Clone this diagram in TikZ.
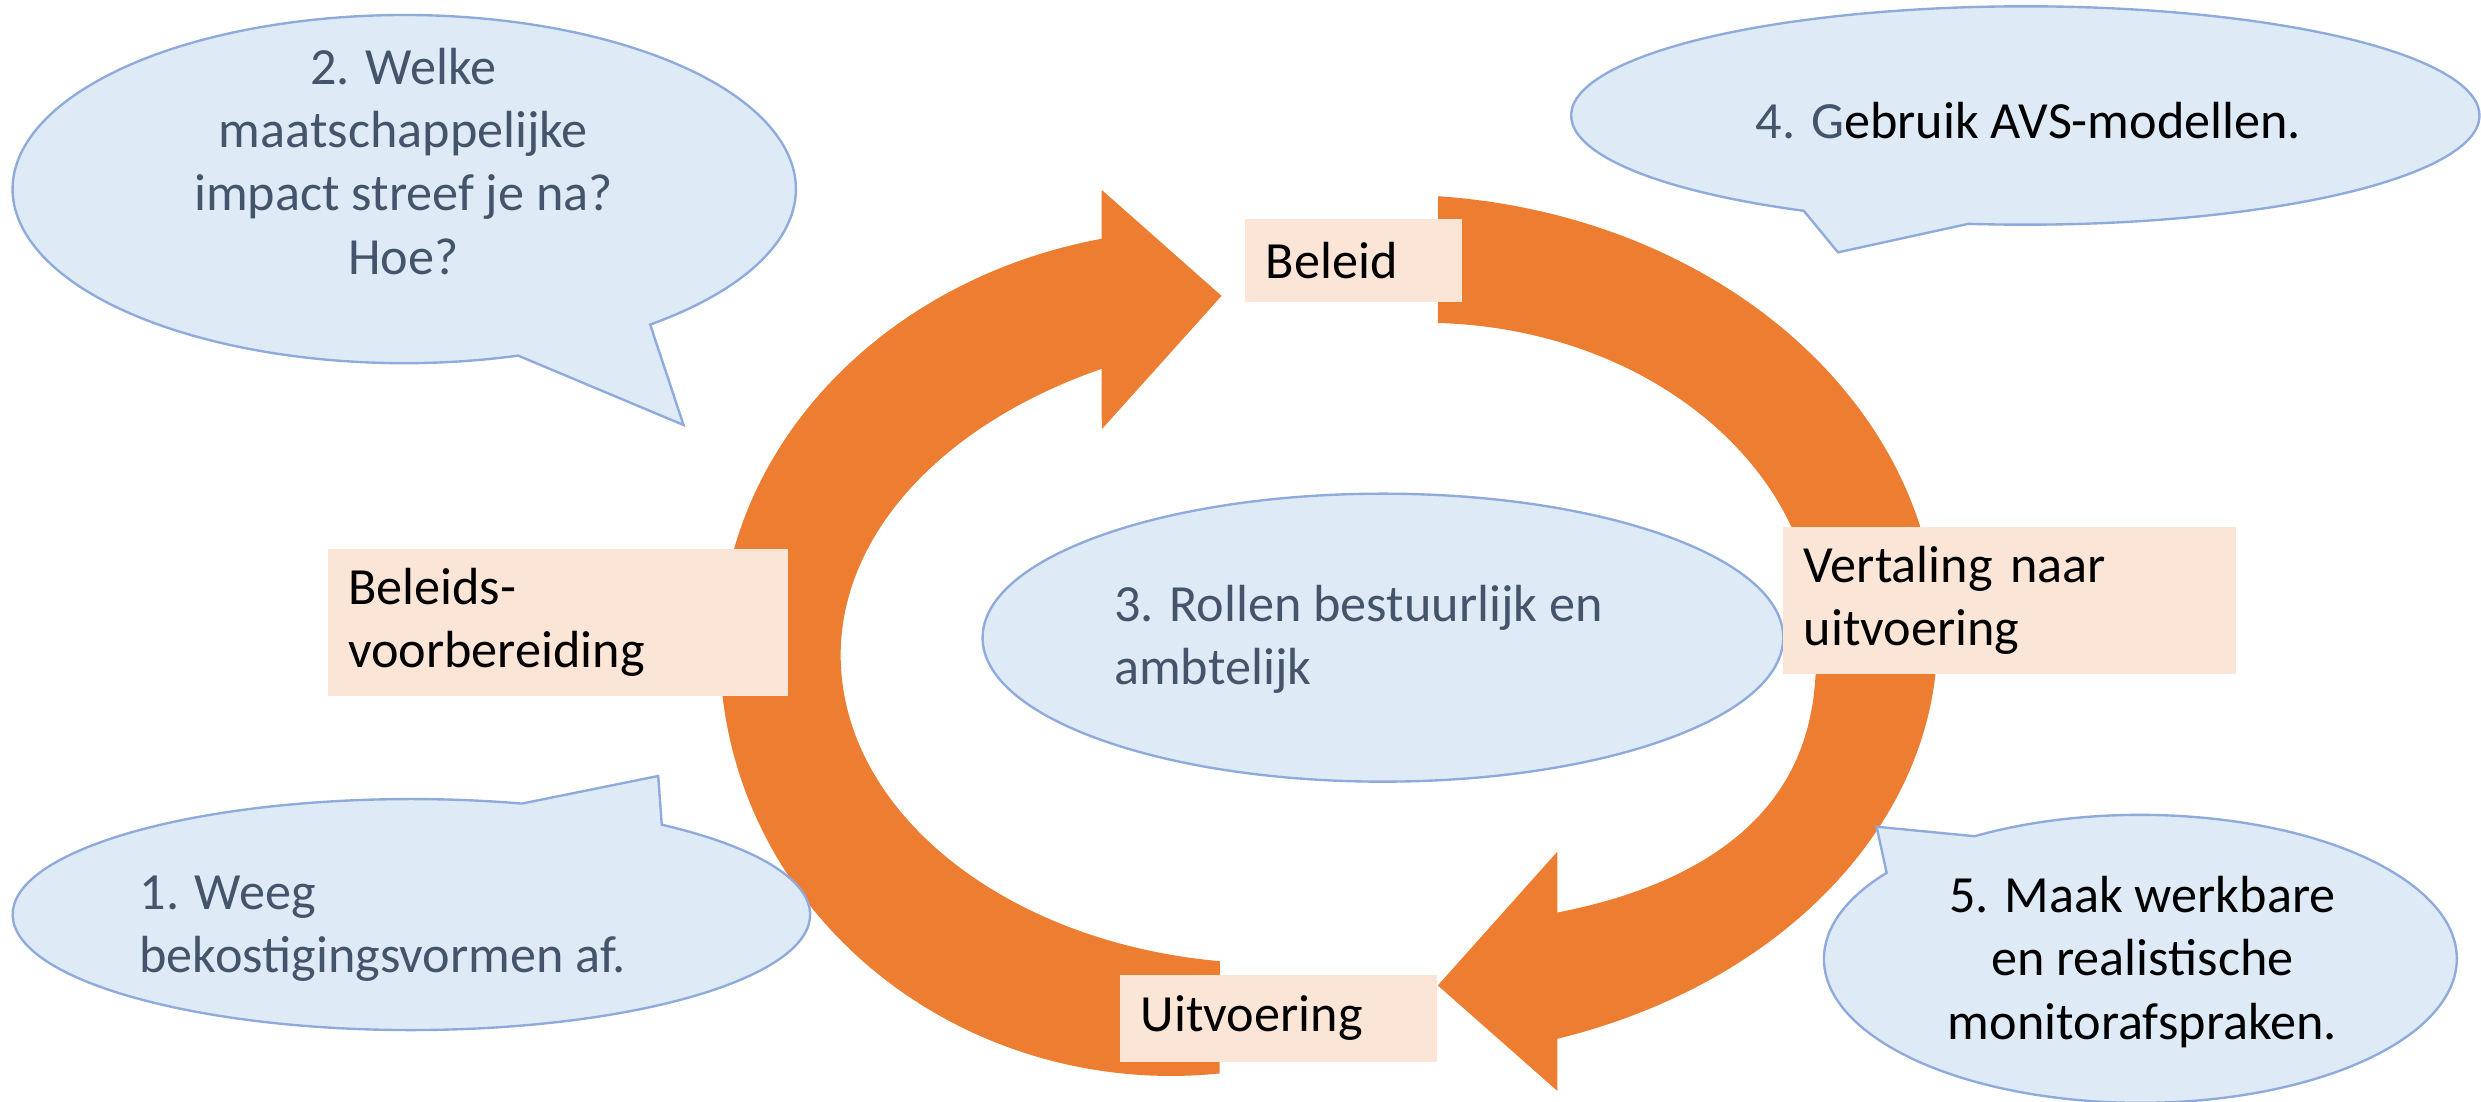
\documentclass[tikz,border=0pt]{standalone}
\usepackage{fontspec}
\setmainfont{Carlito}
\usetikzlibrary{calc}
\definecolor{ringc}{HTML}{ED7D31}
\definecolor{boxfill}{HTML}{FBE5D6}
\definecolor{bubfill}{HTML}{DEEBF7}
\definecolor{bubline}{HTML}{8FAADC}
\definecolor{slate}{HTML}{44546A}
\begin{document}
\begin{tikzpicture}[x=1pt,y=1pt,yscale=-1,
  bubble/.style={fill=bubfill,draw=bubline,line width=1.5pt,line join=miter},
  txt/.style={inner sep=0pt,font=\fontsize{33}{40}\selectfont},
  lbl/.style={fill=boxfill,inner xsep=13pt,inner ysep=0pt,align=left,font=\fontsize{33}{40}\selectfont}]
\useasboundingbox[fill=white] (0,0) rectangle (1568,696);
% left ring arrow (bottom tail -> arrowhead at Beleid)
\fill[ringc] ($(740,411)+(83.78:285 and 269)$)
  arc[start angle=83.78,end angle=180,x radius=285,y radius=269]
  arc[start angle=180,end angle=257.94,x radius=305,y radius=266]
  -- (696.3,120) -- (772,187) -- (696.3,271.3)
  -- ($(838,414)+(242.48:306.7 and 204)$)
  arc[start angle=242.48,end angle=180,x radius=306.7,y radius=204]
  arc[start angle=180,end angle=97.16,x radius=273.7,y radius=195] -- cycle;
% right ring arrow (top tail -> arrowhead at Uitvoering)
\fill[ringc] ($(880,403)+(274.8:344.5 and 280)$)
  arc[start angle=274.8,end angle=360,x radius=344.5,y radius=280]
  arc[start angle=0,end angle=72.39,x radius=344.5,y radius=266]
  -- (984.2,689.4) -- (908.7,622.8) -- (984.2,538.3)
  -- plot[domain=68.11:0.5,samples=60,variable=\t] ({840+308*pow(cos(\t),0.7692)},{403+184*pow(sin(\t),0.7692)})
  -- (1148,403)
  arc[start angle=360,end angle=272.03,x radius=248,y radius=199] -- cycle;
% bubbles
\draw[bubble] ($(255.5,119.5)+(73.1:247.5 and 110)$) arc[start angle=73.1,end angle=411.1,x radius=247.5,y radius=110] -- (432,268.6) -- cycle;
\draw[bubble] ($(1280,73)+(119.2:287 and 69)$) arc[start angle=119.2,end angle=457.2,x radius=287,y radius=69] -- (1161.6,159.5) -- cycle;
\draw[bubble] ($(260,578)+(-51.1:252 and 73)$) arc[start angle=-51.1,end angle=286.1,x radius=252,y radius=73] -- (416,490.4) -- cycle;
\draw[bubble] ($(1352.7,606)+(238.4:200 and 91)$) arc[start angle=238.4,end angle=576.7,x radius=200,y radius=91] -- (1186,522.5) -- cycle;
\draw[bubble] (874,403) ellipse[x radius=253,y radius=91];
% bubble texts
\node[txt,text=slate,align=center] (t2) at (255,102) {2. Welke\\maatschappelijke\\impact streef je na?\\Hoe?};
\node[txt,align=center] (t4) at (1282,76) {\textcolor{slate}{4. G}ebruik AVS-modellen.};
\node[txt,text=slate,align=left,anchor=west] (t3) at (704,404) {3. Rollen bestuurlijk en\\ambtelijk};
\node[txt,text=slate,align=left,anchor=west] (t1) at (88,587) {1. Weeg\\bekostigingsvormen af.};
\node[txt,align=center] (t5) at (1354,608) {5. Maak werkbare\\en realistische\\monitorafspraken.};
% label boxes
\node[lbl,text width=111pt,minimum height=53pt] (beleid) at (855.5,164.6) {Beleid};
\node[lbl,text width=265pt,minimum height=93pt] (voorb) at (352.5,393.5) {Beleids-\\voorbereiding};
\node[lbl,text width=260pt,minimum height=93pt] (vert) at (1270,379.5) {Vertaling naar\\uitvoering};
\node[lbl,text width=174pt,minimum height=55pt] (uitv) at (808,643.5) {Uitvoering};
\end{tikzpicture}
\end{document}
